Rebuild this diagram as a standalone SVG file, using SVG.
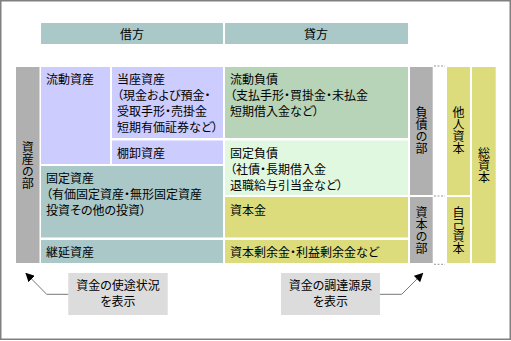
<svg xmlns="http://www.w3.org/2000/svg" width="511" height="341" viewBox="0 0 511 341">
<defs>
<style>
text{font-family:"Noto Sans CJK JP","Noto Sans CJK SC",sans-serif;font-size:12px;fill:#000;font-feature-settings:"palt";}
.c{text-anchor:middle;}
.v{writing-mode:vertical-rl;text-orientation:upright;text-anchor:middle;font-feature-settings:normal;}
.hd{fill:#aac8c8;}
.lav{fill:#ccccff;}
.teal{fill:#aac8c8;}
.g1{fill:#b8d4b8;}
.g2{fill:#e0f8e0;}
.yel{fill:#dcdc7c;}
.gray{fill:#b0b0b0;}
.box{fill:#dcdcdc;}
.dot{stroke:#999;stroke-width:1;stroke-dasharray:2 1.5;fill:none;}
.arr{stroke:#777;stroke-width:1;fill:none;marker-end:url(#ah);}
</style>
<marker id="ah" viewBox="0 0 10 10" refX="9" refY="5" markerWidth="9" markerHeight="9" markerUnits="userSpaceOnUse" orient="auto">
<path d="M0,0 L10,5 L0,10 z" fill="#000"/>
</marker>
</defs>
<rect x="0.75" y="0.75" width="509.5" height="338.5" fill="#fff" stroke="#808080" stroke-width="1.5"/>

<g id="header-karikata"><rect class="hd" x="41" y="23" width="182" height="21"/><text class="c" x="132" y="39">借方</text></g>
<g id="header-kashikata"><rect class="hd" x="225" y="23" width="183" height="21"/><text class="c" x="316" y="39">貸方</text></g>

<g id="shisan-no-bu"><rect class="gray" x="16" y="67" width="23.5" height="196"/>
<text class="v" x="27.7" y="165">資産の部</text></g>

<g id="ryudo-shisan"><rect class="lav" x="41" y="67" width="69" height="97"/><text x="46" y="84">流動資産</text></g>
<g id="toza-shisan"><rect class="lav" x="112" y="67" width="111" height="71"/>
<text x="117" y="84">当座資産</text><text x="117" y="100">（現金および預金・</text><text x="117" y="116">受取手形・売掛金</text><text x="117" y="132">短期有価証券など）</text></g>
<g id="tanaoroshi-shisan"><rect class="lav" x="112" y="140.5" width="111" height="23.5"/><text x="117" y="158">棚卸資産</text></g>
<g id="kotei-shisan"><rect class="teal" x="41" y="166" width="182" height="71.5"/>
<text x="46" y="183">固定資産</text><text x="46" y="199">（有価固定資産・無形固定資産</text><text x="46" y="215">投資その他の投資）</text></g>
<g id="keien-shisan"><rect class="teal" x="41" y="240" width="182" height="23"/><text x="46" y="257">継延資産</text></g>

<g id="ryudo-fusai"><rect class="g1" x="225" y="67" width="183" height="71"/>
<text x="230" y="84">流動負債</text><text x="230" y="100">（支払手形・買掛金・未払金</text><text x="230" y="116">短期借入金など）</text></g>
<g id="kotei-fusai"><rect class="g2" x="225" y="140.5" width="183" height="54.5"/>
<text x="230" y="158">固定負債</text><text x="230" y="174">（社債・長期借入金</text><text x="230" y="190">退職給与引当金など）</text></g>
<g id="shihonkin"><rect class="yel" x="225" y="197" width="183" height="40.5"/><text x="230" y="215">資本金</text></g>
<g id="jouyokin"><rect class="yel" x="225" y="240" width="183" height="23"/><text x="230" y="257">資本剰余金・利益剰余金など</text></g>

<g id="fusai-no-bu"><rect class="gray" x="410" y="67" width="22.7" height="128"/>
<text class="v" x="421.5" y="130.5">負債の部</text></g>
<g id="shihon-no-bu"><rect class="gray" x="410" y="197" width="22.7" height="66"/>
<text class="v" x="421.5" y="230.5">資本の部</text></g>

<g id="tanin-shihon"><rect class="yel" x="447" y="67" width="23" height="128"/>
<text class="v" x="458.5" y="130.5">他人資本</text></g>
<g id="jiko-shihon"><rect class="yel" x="447" y="197" width="23" height="66"/>
<text class="v" x="458.5" y="230">自己資本</text></g>
<g id="so-shihon"><rect class="yel" x="472" y="67" width="23.7" height="196"/>
<text class="v" x="484" y="165">総資本</text></g>

<g id="callout-shito"><rect class="box" x="68.3" y="273" width="99.4" height="42"/>
<text class="c" x="118" y="290">資金の使途状況</text><text class="c" x="118" y="306">を表示</text></g>
<g id="callout-chotatsu"><rect class="box" x="281" y="273" width="99" height="42"/>
<text class="c" x="330.5" y="290">資金の調達源泉</text><text class="c" x="330.5" y="306">を表示</text></g>

<g id="connectors">
<path class="dot" d="M434,66 H445 M434,196 H445 M434,264.3 H445"/>
<path class="arr" d="M68.3,294.3 H46.7 L26,273.3"/>
<path class="arr" d="M380,294.3 H401.7 L422.7,273.3"/>
</g>
</svg>
